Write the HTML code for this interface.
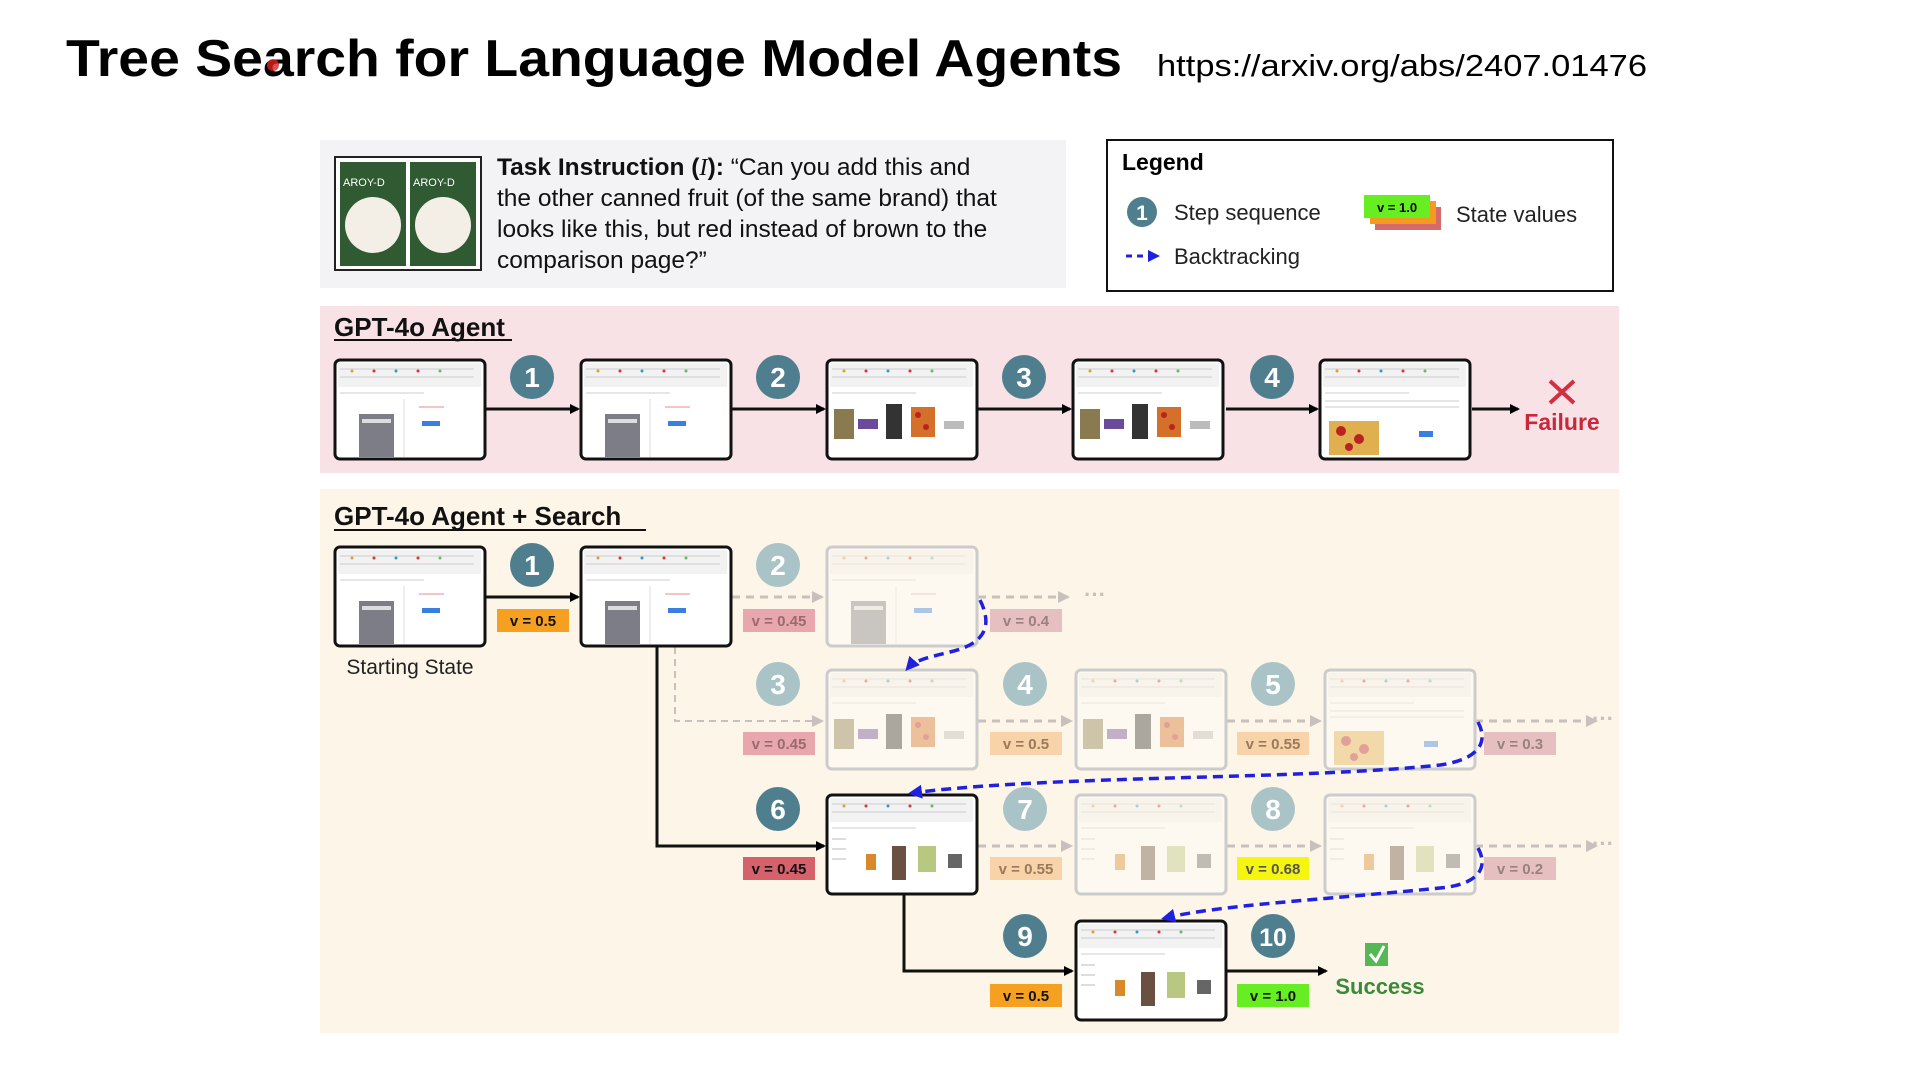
<!DOCTYPE html>
<html><head><meta charset="utf-8"><style>
html,body{margin:0;padding:0;background:#fff;}
svg{display:block;font-family:"Liberation Sans",sans-serif;}
</style></head><body>
<svg width="1920" height="1080" viewBox="0 0 1920 1080" xmlns="http://www.w3.org/2000/svg">
<defs>
<marker id="ab" markerWidth="10" markerHeight="10" refX="8" refY="5" orient="auto" markerUnits="userSpaceOnUse"><path d="M0,0 L10,5 L0,10 z" fill="#000"/></marker>
<marker id="ag" markerWidth="12" markerHeight="12" refX="10" refY="6" orient="auto" markerUnits="userSpaceOnUse"><path d="M0,0 L12,6 L0,12 z" fill="#c8c0bc"/></marker>
<marker id="abl" markerWidth="14" markerHeight="14" refX="10" refY="7" orient="auto" markerUnits="userSpaceOnUse"><path d="M0,0 L14,7 L0,14 z" fill="#2020e0"/></marker>
<symbol id="top" viewBox="0 0 151 100">
<rect x="1" y="1" width="149" height="98" rx="5" fill="#fff" stroke="none"/>
<rect x="4" y="4" width="143" height="24" fill="#f2f2f2" stroke="none"/>
<line x1="6" y1="10" x2="140" y2="10" stroke="#ccc" stroke-width="1"/>
<line x1="6" y1="18" x2="140" y2="18" stroke="#ccc" stroke-width="1"/>
<circle cx="18" cy="12" r="1.5" fill="#e0a030" stroke="none"/><circle cx="40" cy="12" r="1.5" fill="#d33" stroke="none"/><circle cx="62" cy="12" r="1.5" fill="#39c" stroke="none"/><circle cx="84" cy="12" r="1.5" fill="#d33" stroke="none"/><circle cx="106" cy="12" r="1.5" fill="#6b6" stroke="none"/>
<line x1="6" y1="34" x2="90" y2="34" stroke="#ccc" stroke-width="1"/>
</symbol>
<symbol id="sA" viewBox="0 0 151 100">
<use href="#top" width="151" height="100"/>
<rect x="25" y="55" width="35" height="43" fill="#7d7d88" stroke="none"/>
<rect x="28" y="60" width="29" height="4" fill="#ddd" stroke="none"/>
<line x1="70" y1="40" x2="70" y2="98" stroke="#ddd"/>
<rect x="88" y="62" width="18" height="5" fill="#3a7ee0" stroke="none"/>
<line x1="85" y1="48" x2="110" y2="48" stroke="#e88"/>
</symbol>
<symbol id="sB" viewBox="0 0 151 100">
<use href="#top" width="151" height="100"/>
<rect x="8" y="50" width="20" height="30" fill="#8a7a50" stroke="none"/>
<rect x="32" y="60" width="20" height="10" fill="#6a4a9a" stroke="none"/>
<rect x="60" y="45" width="16" height="35" fill="#333" stroke="none"/>
<rect x="85" y="48" width="24" height="30" fill="#d4702a" stroke="none"/>
<circle cx="92" cy="56" r="3" fill="#b22" stroke="none"/><circle cx="100" cy="68" r="3" fill="#b22" stroke="none"/>
<rect x="118" y="62" width="20" height="8" fill="#bbb" stroke="none"/>
</symbol>
<symbol id="sC" viewBox="0 0 151 100">
<use href="#top" width="151" height="100"/>
<line x1="6" y1="45" x2="20" y2="45" stroke="#bbb"/><line x1="6" y1="55" x2="20" y2="55" stroke="#bbb"/><line x1="6" y1="65" x2="20" y2="65" stroke="#bbb"/>
<rect x="40" y="60" width="10" height="16" fill="#d9882a" stroke="none"/>
<rect x="66" y="52" width="14" height="34" fill="#6a5040" stroke="none"/>
<rect x="92" y="52" width="18" height="26" fill="#b8c880" stroke="none"/>
<rect x="122" y="60" width="14" height="14" fill="#666" stroke="none"/>
</symbol>
<symbol id="sD" viewBox="0 0 151 100">
<use href="#top" width="151" height="100"/>
<line x1="6" y1="42" x2="140" y2="42" stroke="#ccc"/><line x1="6" y1="48" x2="140" y2="48" stroke="#ccc"/>
<rect x="10" y="62" width="50" height="34" fill="#e0b050" stroke="none"/>
<circle cx="22" cy="72" r="5" fill="#b22" stroke="none"/><circle cx="40" cy="80" r="5" fill="#b22" stroke="none"/><circle cx="30" cy="88" r="4" fill="#b22" stroke="none"/>
<rect x="100" y="72" width="14" height="6" fill="#3a7ee0" stroke="none"/>
</symbol>
</defs>

<rect width="1920" height="1080" fill="#fff"/>
<text x="66" y="76" font-size="52" font-weight="bold" fill="#000" textLength="1056" lengthAdjust="spacingAndGlyphs">Tree Search for Language Model Agents</text>
<circle cx="273" cy="65" r="6" fill="#e02020" opacity="0.8"/>
<text x="1157" y="76" font-size="31" fill="#000" textLength="490" lengthAdjust="spacingAndGlyphs">https://arxiv.org/abs/2407.01476</text>

<rect x="320" y="140" width="746" height="148" fill="#f3f2f4"/>
<rect x="335" y="157" width="146" height="113" fill="#fff" stroke="#222" stroke-width="2"/>
<rect x="340" y="162" width="66" height="104" fill="#2f5a32"/><rect x="410" y="162" width="66" height="104" fill="#2f5a32"/>
<ellipse cx="373" cy="225" rx="28" ry="28" fill="#f4efe6"/><ellipse cx="443" cy="225" rx="28" ry="28" fill="#f4efe6"/>
<text x="343" y="186" font-size="11" fill="#fff">AROY-D</text><text x="413" y="186" font-size="11" fill="#fff">AROY-D</text>
<g font-size="24.5" fill="#111">
<text x="497" y="175"><tspan font-weight="bold">Task Instruction (</tspan><tspan font-style="italic" font-family="Liberation Serif">I</tspan><tspan font-weight="bold">):</tspan> “Can you add this and</text>
<text x="497" y="206">the other canned fruit (of the same brand) that</text>
<text x="497" y="237">looks like this, but red instead of brown to the</text>
<text x="497" y="268">comparison page?”</text>
</g>

<rect x="1107" y="140" width="506" height="151" fill="#fff" stroke="#111" stroke-width="2"/>
<text x="1122" y="170" font-size="23" font-weight="bold">Legend</text>
<circle cx="1142" cy="212" r="15" fill="#4f7f8e"/><text x="1142" y="220" font-size="21" font-weight="bold" fill="#fff" text-anchor="middle">1</text>
<text x="1174" y="220" font-size="22" fill="#222">Step sequence</text>
<rect x="1375" y="207" width="66" height="23" fill="#d46a6a"/>
<rect x="1370" y="201" width="66" height="23" fill="#f39b20"/>
<rect x="1364" y="195" width="66" height="23" fill="#66ee22"/>
<text x="1397" y="212" font-size="13" font-weight="bold" text-anchor="middle">v = 1.0</text>
<text x="1456" y="222" font-size="22" fill="#222">State values</text>
<line x1="1126" y1="256" x2="1150" y2="256" stroke="#2020e0" stroke-width="3" stroke-dasharray="6,5"/>
<path d="M1148,250 L1160,256 L1148,262 z" fill="#2020e0"/>
<text x="1174" y="264" font-size="22" fill="#222">Backtracking</text>

<rect x="320" y="306" width="1299" height="167" fill="#f9e2e6"/>
<text x="334" y="336" font-size="26" font-weight="bold" fill="#111">GPT-4o Agent</text>
<line x1="334" y1="340" x2="512" y2="340" stroke="#111" stroke-width="2"/>
<g stroke="#111" stroke-width="3" marker-end="url(#ab)">
<line x1="486" y1="409" x2="578" y2="409"/><line x1="732" y1="409" x2="824" y2="409"/><line x1="978" y1="409" x2="1070" y2="409"/><line x1="1226" y1="409" x2="1317" y2="409"/><line x1="1472" y1="409" x2="1518" y2="409"/>
</g>
<g>
<use href="#sA" x="334" y="359" width="151" height="100"/>
<use href="#sA" x="580" y="359" width="151" height="100"/>
<use href="#sB" x="826" y="359" width="151" height="100"/>
<use href="#sB" x="1072" y="359" width="151" height="100"/>
<use href="#sD" x="1319" y="359" width="151" height="100"/>
</g>
<g fill="none" stroke="#111" stroke-width="3">
<rect x="335" y="360" width="150" height="99" rx="5"/><rect x="581" y="360" width="150" height="99" rx="5"/><rect x="827" y="360" width="150" height="99" rx="5"/><rect x="1073" y="360" width="150" height="99" rx="5"/><rect x="1320" y="360" width="150" height="99" rx="5"/>
</g>
<g font-size="28" font-weight="bold" fill="#fff" text-anchor="middle">
<circle cx="532" cy="377" r="22" fill="#4f7f8e"/><text x="532" y="387">1</text>
<circle cx="778" cy="377" r="22" fill="#4f7f8e"/><text x="778" y="387">2</text>
<circle cx="1024" cy="377" r="22" fill="#4f7f8e"/><text x="1024" y="387">3</text>
<circle cx="1272" cy="377" r="22" fill="#4f7f8e"/><text x="1272" y="387">4</text>
</g>
<path d="M1550,381 L1574,403 M1574,381 L1550,403" stroke="#d03040" stroke-width="4"/>
<text x="1562" y="430" font-size="23" font-weight="bold" fill="#c8283a" text-anchor="middle">Failure</text>

<rect x="320" y="489" width="1299" height="544" fill="#fdf6e8"/>
<text x="334" y="525" font-size="26" font-weight="bold" fill="#111">GPT-4o Agent + Search</text>
<line x1="334" y1="530" x2="646" y2="530" stroke="#111" stroke-width="2"/>

<g stroke="#c8c0bc" stroke-width="3" stroke-dasharray="8,6" fill="none" marker-end="url(#ag)">
<line x1="732" y1="597" x2="822" y2="597"/>
<line x1="978" y1="597" x2="1068" y2="597"/>
<line x1="978" y1="721" x2="1071" y2="721"/>
<line x1="1227" y1="721" x2="1320" y2="721"/>
<line x1="1475" y1="721" x2="1596" y2="721"/>
<line x1="978" y1="846" x2="1071" y2="846"/>
<line x1="1227" y1="846" x2="1320" y2="846"/>
<line x1="1475" y1="846" x2="1596" y2="846"/>
</g>
<polyline points="675,647 675,721 822,721" stroke="#c8c0bc" stroke-width="2" stroke-dasharray="7,5" fill="none" marker-end="url(#ag)"/>
<g font-size="22" font-weight="bold" fill="#c8c0bc"><text x="1084" y="602">···</text><text x="1592" y="726">···</text><text x="1592" y="851">···</text></g>
<g stroke="#111" stroke-width="3" fill="none" marker-end="url(#ab)">
<line x1="486" y1="597" x2="578" y2="597"/>
<polyline points="657,647 657,846 824,846"/>
<polyline points="904,894 904,971 1072,971"/>
<line x1="1227" y1="971" x2="1326" y2="971"/>
</g>

<g>
<use href="#sA" x="334" y="546" width="151" height="100"/>
<use href="#sA" x="580" y="546" width="151" height="100"/>
<use href="#sA" x="826" y="546" width="151" height="100" opacity="0.4"/>
<use href="#sB" x="826" y="669" width="151" height="100" opacity="0.4"/>
<use href="#sB" x="1075" y="669" width="151" height="100" opacity="0.4"/>
<use href="#sD" x="1324" y="669" width="151" height="100" opacity="0.4"/>
<use href="#sC" x="826" y="794" width="151" height="100"/>
<use href="#sC" x="1075" y="794" width="151" height="100" opacity="0.4"/>
<use href="#sC" x="1324" y="794" width="151" height="100" opacity="0.4"/>
<use href="#sC" x="1075" y="920" width="151" height="100"/>
</g>
<g fill="none" stroke="#111" stroke-width="3">
<rect x="335" y="547" width="150" height="99" rx="5"/><rect x="581" y="547" width="150" height="99" rx="5"/>
<rect x="827" y="795" width="150" height="99" rx="5"/><rect x="1076" y="921" width="150" height="99" rx="5"/>
</g>
<g fill="none" stroke="#ccc" stroke-width="3">
<rect x="827" y="547" width="150" height="99" rx="5"/>
<rect x="827" y="670" width="150" height="99" rx="5"/><rect x="1076" y="670" width="150" height="99" rx="5"/><rect x="1325" y="670" width="150" height="99" rx="5"/>
<rect x="1076" y="795" width="150" height="99" rx="5"/><rect x="1325" y="795" width="150" height="99" rx="5"/>
</g>
<text x="410" y="674" font-size="21" fill="#222" text-anchor="middle">Starting State</text>

<g stroke="#2020e0" stroke-width="3.5" stroke-dasharray="10,6" fill="none" marker-end="url(#abl)">
<path d="M980,600 C995,630 980,645 950,652 C930,657 915,660 908,668"/>
<path d="M1478,722 C1490,745 1475,760 1440,765 C1300,780 1050,775 912,793"/>
<path d="M1478,848 C1490,870 1475,885 1440,888 C1320,900 1220,905 1165,918"/>
</g>

<g font-size="28" font-weight="bold" fill="#fff" text-anchor="middle">
<circle cx="532" cy="565" r="22" fill="#4f7f8e"/><text x="532" y="575">1</text>
<circle cx="778" cy="565" r="22" fill="#aac3c6"/><text x="778" y="575">2</text>
<circle cx="778" cy="684" r="22" fill="#aac3c6"/><text x="778" y="694">3</text>
<circle cx="1025" cy="684" r="22" fill="#aac3c6"/><text x="1025" y="694">4</text>
<circle cx="1273" cy="684" r="22" fill="#aac3c6"/><text x="1273" y="694">5</text>
<circle cx="778" cy="809" r="22" fill="#4f7f8e"/><text x="778" y="819">6</text>
<circle cx="1025" cy="809" r="22" fill="#aac3c6"/><text x="1025" y="819">7</text>
<circle cx="1273" cy="809" r="22" fill="#aac3c6"/><text x="1273" y="819">8</text>
<circle cx="1025" cy="936" r="22" fill="#4f7f8e"/><text x="1025" y="946">9</text>
<circle cx="1273" cy="936" r="22" fill="#4f7f8e"/><text x="1273" y="946" font-size="25">10</text>
</g>

<g font-size="15" font-weight="bold" text-anchor="middle">
<rect x="497" y="609" width="72" height="23" fill="#f5a020"/><text x="533" y="626" fill="#111">v = 0.5</text>
<rect x="743" y="609" width="72" height="23" fill="#e8a7ad"/><text x="779" y="626" fill="#9a6a6e">v = 0.45</text>
<rect x="990" y="609" width="72" height="23" fill="#e6c0c0"/><text x="1026" y="626" fill="#9a8080">v = 0.4</text>
<rect x="743" y="732" width="72" height="23" fill="#e8a7ad"/><text x="779" y="749" fill="#9a6a6e">v = 0.45</text>
<rect x="990" y="732" width="72" height="23" fill="#f8d2a8"/><text x="1026" y="749" fill="#9a7a5a">v = 0.5</text>
<rect x="1237" y="732" width="72" height="23" fill="#f8d2a8"/><text x="1273" y="749" fill="#9a7a5a">v = 0.55</text>
<rect x="1484" y="732" width="72" height="23" fill="#e6c0c0"/><text x="1520" y="749" fill="#9a8080">v = 0.3</text>
<rect x="743" y="857" width="72" height="23" fill="#d5616a"/><text x="779" y="874" fill="#111">v = 0.45</text>
<rect x="990" y="857" width="72" height="23" fill="#f8d2a8"/><text x="1026" y="874" fill="#9a7a5a">v = 0.55</text>
<rect x="1237" y="857" width="72" height="23" fill="#f5f510"/><text x="1273" y="874" fill="#555">v = 0.68</text>
<rect x="1484" y="857" width="72" height="23" fill="#e6c0c0"/><text x="1520" y="874" fill="#9a8080">v = 0.2</text>
<rect x="990" y="984" width="72" height="23" fill="#f5a020"/><text x="1026" y="1001" fill="#111">v = 0.5</text>
<rect x="1237" y="984" width="72" height="23" fill="#66ee22"/><text x="1273" y="1001" fill="#111">v = 1.0</text>
</g>
<rect x="1365" y="943" width="23" height="23" fill="#55b855"/>
<path d="M1370,954 L1376,961 L1384,946" stroke="#fff" stroke-width="3" fill="none"/>
<text x="1380" y="994" font-size="22" font-weight="bold" fill="#3a8a3a" text-anchor="middle">Success</text>
</svg>
</body></html>
